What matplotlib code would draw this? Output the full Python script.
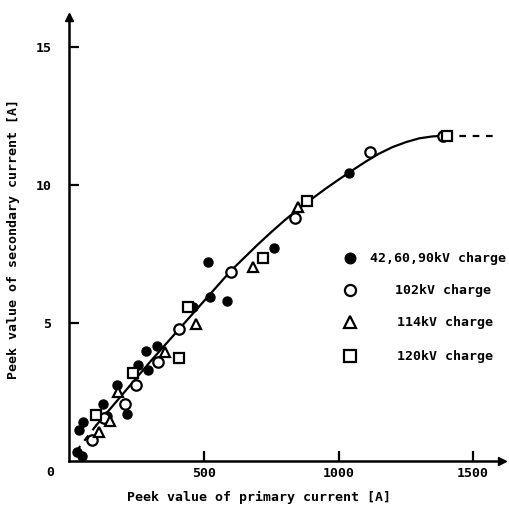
import matplotlib
matplotlib.use("Agg")
import matplotlib.pyplot as plt

# data
filled_x = [28, 46, 35, 50, 125, 139, 177, 214, 255, 292, 284, 325, 459, 515, 522, 585, 760, 1039]
filled_y = [0.33, 0.18, 1.12, 1.41, 2.07, 1.63, 2.75, 1.70, 3.48, 3.30, 3.99, 4.17, 5.58, 7.21, 5.94, 5.80, 7.72, 10.43]

open_x = [83, 130, 206, 247, 329, 407, 600, 839, 1117, 1388]
open_y = [0.75, 1.55, 2.05, 2.75, 3.60, 4.80, 6.85, 8.80, 11.20, 11.80]

tri_x = [110, 150, 180, 355, 470, 683, 849]
tri_y = [1.05, 1.45, 2.50, 3.95, 4.95, 7.05, 9.20]

sq_x = [100, 236, 407, 440, 720, 882, 1403]
sq_y = [1.65, 3.20, 3.75, 5.60, 7.35, 9.42, 11.80]

# hand drawn curve of the original
curve_x = [100, 200, 300, 400, 500, 600, 700, 750, 800, 850, 900, 950, 1000, 1050, 1100,
           1150, 1200, 1250, 1300, 1350, 1400]
curve_y = [1.30, 2.45, 3.60, 4.70, 5.80, 6.90, 7.85, 8.30, 8.73, 9.13, 9.50, 9.86, 10.20, 10.53, 10.85,
           11.14, 11.38, 11.56, 11.70, 11.77, 11.80]
start_x = [25, 100]
start_y = [0.35, 1.30]
tail_x = [1400, 1590]
tail_y = [11.80, 11.80]

font = {'family': 'DejaVu Sans Mono', 'weight': 'bold', 'size': 9.5}

fig = plt.figure(figsize=(5.09, 5.13), dpi=100)
ax = fig.add_axes([0.1365, 0.1014, 0.85, 0.8655])
ax.set_xlim(0, 1608)
ax.set_ylim(0, 16.1)

ax.plot(curve_x, curve_y, color='black', lw=1.6, zorder=2)
ax.plot(start_x, start_y, color='black', lw=1.6, ls=(0, (3, 3)), zorder=2)
ax.plot(tail_x, tail_y, color='black', lw=1.6, ls=(0, (3, 3)), zorder=2)

ax.plot(filled_x, filled_y, 'o', ms=6.5, color='black', ls='none', zorder=3)
ax.plot(open_x, open_y, 'o', ms=7.5, mfc='white', mec='black', mew=1.6, ls='none', zorder=3)
ax.plot(tri_x, tri_y, '^', ms=7.5, mfc='white', mec='black', mew=1.6, ls='none', zorder=3)
ax.plot(sq_x, sq_y, 's', ms=7, mfc='white', mec='black', mew=1.6, ls='none', zorder=3)

# axes styling
for s in ['top', 'right']:
    ax.spines[s].set_visible(False)
for s in ['left', 'bottom']:
    ax.spines[s].set_linewidth(1.8)
ax.plot(0, 1, '^', ms=6, color='black', transform=ax.transAxes, clip_on=False)
ax.plot(1, 0, '>', ms=6, color='black', transform=ax.transAxes, clip_on=False)

ax.set_xticks([500, 1000, 1500])
ax.set_yticks([5, 10, 15])
ax.tick_params(direction='in', length=7, width=1.6)
ax.tick_params(axis='x', pad=4)
ax.tick_params(axis='y', pad=13)
ax.set_xticklabels(['500', '1000', '1500'], fontdict=font)
ax.set_yticklabels(['5', '10', '15'], fontdict=font)
ax.text(-0.045, -0.027, '0', transform=ax.transAxes, ha='center', va='center', fontdict=font)

ax.set_xlabel('Peek value of primary current [A]', fontdict=font)
ax.set_ylabel('Peek value of secondary current [A]', fontdict=font)
ax.yaxis.set_label_coords(-0.115, 0.50)
ax.xaxis.set_label_coords(0.438, -0.068)

# legend drawn by hand
leg_marker = ['o', 'o', '^', 's']
leg_face = ['black', 'white', 'white', 'white']
leg_text = ['42,60,90kV charge', '102kV charge', '114kV charge', '120kV charge']
leg_text_x = [0.695, 0.752, 0.756, 0.758]
leg_y = [0.457, 0.385, 0.313, 0.236]
for m, fc, lab, tx, yy in zip(leg_marker, leg_face, leg_text, leg_text_x, leg_y):
    ms = 7 if fc == 'black' else 8
    ax.plot(0.648, yy, m, ms=ms, mfc=fc, mec='black', mew=1.6,
            transform=ax.transAxes, clip_on=False)
    ax.text(tx, yy, lab, transform=ax.transAxes, va='center', ha='left', fontdict=font)

fig.savefig('out.png', dpi=100)
